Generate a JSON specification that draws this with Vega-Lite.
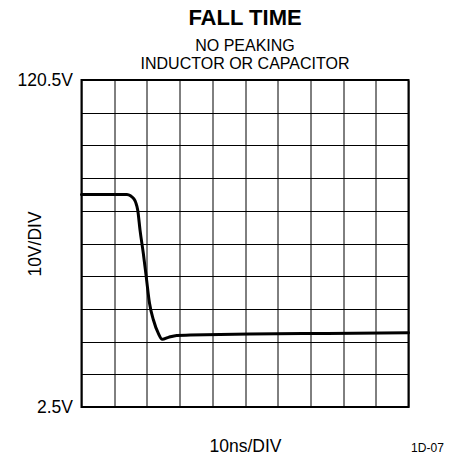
{
  "$schema": "https://vega.github.io/schema/vega-lite/v6.json",
  "autosize": "none",
  "width": 327,
  "height": 327,
  "padding": {"left": 81.5, "top": 80, "right": 41.5, "bottom": 47},
  "background": "white",
  "config": {
    "font": "Liberation Sans",
    "view": {"stroke": "black", "strokeWidth": 2}
  },
  "title": {
    "text": "FALL TIME",
    "subtitle": ["NO PEAKING", "INDUCTOR OR CAPACITOR"],
    "anchor": "middle",
    "font": "Liberation Sans",
    "fontSize": 22,
    "fontWeight": "bold",
    "color": "black",
    "subtitleFont": "Liberation Sans",
    "subtitleFontSize": 16,
    "subtitleColor": "black",
    "subtitleLineHeight": 18,
    "subtitlePadding": 8,
    "offset": -1.5
  },
  "datasets": {
    "trace": [
      {"t": 0, "d": 6.50},
      {"t": 12, "d": 6.50},
      {"t": 13.9, "d": 6.50},
      {"t": 15.0, "d": 6.46},
      {"t": 15.9, "d": 6.38},
      {"t": 16.6, "d": 6.25},
      {"t": 17.2, "d": 6.02},
      {"t": 17.9, "d": 5.41},
      {"t": 18.9, "d": 4.70},
      {"t": 19.8, "d": 3.98},
      {"t": 20.8, "d": 3.17},
      {"t": 22.0, "d": 2.66},
      {"t": 23.5, "d": 2.25},
      {"t": 24.7, "d": 2.07},
      {"t": 26.6, "d": 2.13},
      {"t": 29.1, "d": 2.19},
      {"t": 33.2, "d": 2.20},
      {"t": 51.5, "d": 2.23},
      {"t": 75, "d": 2.25},
      {"t": 100, "d": 2.27}
    ],
    "note": [{"label": "1D-07"}]
  },
  "layer": [
    {
      "data": {"name": "trace"},
      "mark": {"type": "line", "color": "black", "strokeWidth": 3, "interpolate": "monotone", "strokeCap": "round", "strokeJoin": "round"},
      "encoding": {
        "x": {
          "field": "t",
          "type": "quantitative",
          "scale": {"domain": [0, 100], "nice": false, "zero": false},
          "axis": {
            "values": [0, 10, 20, 30, 40, 50, 60, 70, 80, 90, 100],
            "grid": true,
            "gridColor": "black",
            "gridWidth": 1,
            "gridOpacity": 1,
            "domain": false,
            "ticks": false,
            "labels": false,
            "title": "10ns/DIV",
            "titleFont": "Liberation Sans",
            "titleFontSize": 17.5,
            "titleFontWeight": "normal",
            "titleColor": "black",
            "titleBaseline": "alphabetic",
            "titleY": 44
          }
        },
        "y": {
          "field": "d",
          "type": "quantitative",
          "scale": {"domain": [0, 10], "nice": false, "zero": false},
          "axis": {
            "values": [0, 1, 2, 3, 4, 5, 6, 7, 8, 9, 10],
            "grid": true,
            "gridColor": "black",
            "gridWidth": 1,
            "gridOpacity": 1,
            "domain": false,
            "ticks": false,
            "labelExpr": "datum.value == 0 ? '2.5V' : (datum.value == 10 ? '120.5V' : '')",
            "labelFont": "Liberation Sans",
            "labelFontSize": 17.5,
            "labelColor": "black",
            "labelPadding": 9,
            "labelOverlap": false,
            "labelBaseline": "middle",
            "title": "10V/DIV",
            "titleFont": "Liberation Sans",
            "titleFontSize": 17.5,
            "titleFontWeight": "normal",
            "titleColor": "black",
            "titleBaseline": "middle",
            "titleX": -46,
            "titleY": 163.5
          }
        }
      }
    },
    {
      "data": {"name": "note"},
      "mark": {"type": "text", "font": "Liberation Sans", "fontSize": 12, "color": "black", "baseline": "alphabetic", "align": "center"},
      "encoding": {
        "text": {"field": "label"},
        "x": {
          "datum": 105.8,
          "type": "quantitative",
          "axis": {
            "values": [0, 10, 20, 30, 40, 50, 60, 70, 80, 90, 100],
            "grid": true,
            "gridColor": "black",
            "gridWidth": 1,
            "gridOpacity": 1,
            "domain": false,
            "ticks": false,
            "labels": false,
            "title": "10ns/DIV",
            "titleFont": "Liberation Sans",
            "titleFontSize": 17.5,
            "titleFontWeight": "normal",
            "titleColor": "black",
            "titleBaseline": "alphabetic",
            "titleY": 44
          }
        },
        "y": {
          "datum": -1.37,
          "type": "quantitative",
          "axis": {
            "values": [0, 1, 2, 3, 4, 5, 6, 7, 8, 9, 10],
            "grid": true,
            "gridColor": "black",
            "gridWidth": 1,
            "gridOpacity": 1,
            "domain": false,
            "ticks": false,
            "labelExpr": "datum.value == 0 ? '2.5V' : (datum.value == 10 ? '120.5V' : '')",
            "labelFont": "Liberation Sans",
            "labelFontSize": 17.5,
            "labelColor": "black",
            "labelPadding": 9,
            "labelOverlap": false,
            "labelBaseline": "middle",
            "title": "10V/DIV",
            "titleFont": "Liberation Sans",
            "titleFontSize": 17.5,
            "titleFontWeight": "normal",
            "titleColor": "black",
            "titleBaseline": "middle",
            "titleX": -46,
            "titleY": 163.5
          }
        }
      }
    }
  ]
}
